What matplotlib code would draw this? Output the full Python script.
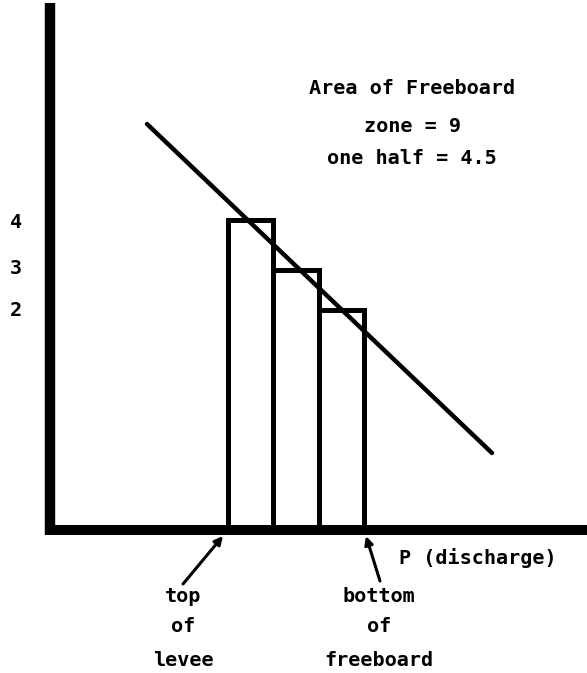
""" Freeboard zone sketch: step bars under a sloping line. """

import matplotlib
matplotlib.use('Agg')
import matplotlib.pyplot as plt

# Bars (left edge, width, height) in sketch units.
bar_lefts = [17.75, 22.3, 26.85]
bar_widths = [4.55, 4.55, 4.55]
bar_heights = [31.0, 26.05, 22.05]

# Labels on the left, level with the bar tops.
tick_pos = [30.8, 26.2, 22.0]
tick_labels = ['4', '3', '2']

# Sloping line end points.
line_x = [9.7, 44.2]
line_y = [40.6, 7.7]

note_lines = ['Area of Freeboard', 'zone = 9', 'one half = 4.5']

fig = plt.figure(figsize=(5.87, 6.73), dpi=100)
ax = fig.add_axes([0, 0, 1, 1])
ax.set_xlim(-5.0, 53.7)
ax.set_ylim(-14.3, 53.0)
ax.axis('off')

font = dict(family='DejaVu Sans Mono', fontweight='bold', fontsize=14.5, color='black')

# Axes drawn as heavy strokes.
ax.plot([0, 0], [-0.5, 52.7], color='black', lw=7.5, solid_capstyle='butt')
ax.plot([-0.5, 53.7], [0, 0], color='black', lw=7.2, solid_capstyle='butt')

ax.bar(bar_lefts, bar_heights, width=bar_widths, align='edge',
       facecolor='none', edgecolor='black', linewidth=3.6)

ax.plot(line_x, line_y, color='black', lw=3.2, solid_capstyle='round')

for p, lab in zip(tick_pos, tick_labels):
    ax.text(-3.4, p, lab, ha='center', va='center', **font)

for yy, s in zip([44.1, 40.3, 37.1], note_lines):
    ax.text(36.2, yy, s, ha='center', va='center', **font)

ax.text(42.8, -2.8, 'P (discharge)', ha='center', va='center', **font)

for yy, s in zip([-6.7, -9.7, -13.0], ['top', 'of', 'levee']):
    ax.text(13.3, yy, s, ha='center', va='center', **font)
for yy, s in zip([-6.7, -9.7, -13.0], ['bottom', 'of', 'freeboard']):
    ax.text(32.9, yy, s, ha='center', va='center', **font)

# Pointers to the axis.
ax.annotate('', xy=(17.3, -0.6), xytext=(13.3, -5.4),
            arrowprops=dict(arrowstyle='-|>', color='black', lw=2.2,
                            mutation_scale=12, shrinkA=0, shrinkB=0))
ax.annotate('', xy=(31.6, -0.6), xytext=(33.0, -5.1),
            arrowprops=dict(arrowstyle='-|>', color='black', lw=2.2,
                            mutation_scale=12, shrinkA=0, shrinkB=0))

plt.savefig('out.png', dpi=100, facecolor='white')
